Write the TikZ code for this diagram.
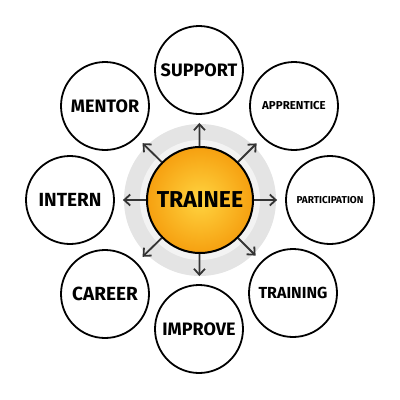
\documentclass[tikz,border=0pt]{standalone}
\usepackage{fontspec}
\setmainfont{Fira Sans}
\usetikzlibrary{arrows.meta}

\definecolor{ringgray}{RGB}{228,228,228}
\definecolor{ringlight}{RGB}{243,243,243}
\definecolor{sunout}{RGB}{246,160,16}
\definecolor{sunin}{RGB}{255,212,64}
\definecolor{arrowgray}{RGB}{52,52,52}

\begin{document}
\begin{tikzpicture}[x=1pt, y=-1pt,
    bubble/.style={draw, circle, line width=1.8pt, fill=white, minimum size=88pt, inner sep=0pt},
    hub/.style={draw, circle, line width=2pt, minimum size=106pt, inner sep=0pt,
      inner color=sunin, outer color=sunout, font=\bfseries\fontsize{23}{23}\selectfont},
    spoke/.style={-{Straight Barb[length=6pt,width=11pt]}, line width=1.8pt, arrowgray, shorten >=8pt}]

    \useasboundingbox (0,0) rectangle (400,400);

    % === Anello grigio ===
    \fill[ringgray] (200,200) circle (76);
    \fill[ringlight] (200,200) circle (60);

    % === Centro ===
    \node[hub] (trainee) at (200,200) {TRAINEE};

    % === Cerchi esterni ===
    \node[bubble, font=\bfseries\fontsize{18}{18}\selectfont] (support) at (199,70) {SUPPORT};
    \node[bubble, font=\bfseries\fontsize{11.5}{11.5}\selectfont] (apprentice) at (294,106) {APPRENTICE};
    \node[bubble, font=\bfseries\fontsize{10}{10}\selectfont] (participation) at (330,200) {PARTICIPATION};
    \node[bubble, font=\bfseries\fontsize{16}{16}\selectfont] (training) at (293,293) {TRAINING};
    \node[bubble, font=\bfseries\fontsize{18}{18}\selectfont] (improve) at (199,329) {IMPROVE};
    \node[bubble, font=\bfseries\fontsize{19}{19}\selectfont] (career) at (105,294) {CAREER};
    \node[bubble, font=\bfseries\fontsize{19}{19}\selectfont] (intern) at (70,200) {INTERN};
    \node[bubble, font=\bfseries\fontsize{18}{18}\selectfont] (mentor) at (105,106) {MENTOR};

    % Frecce
    \draw[spoke] (trainee) -- (support);
    \draw[spoke] (trainee) -- (apprentice);
    \draw[spoke] (trainee) -- (participation);
    \draw[spoke] (trainee) -- (training);
    \draw[spoke] (trainee) -- (improve);
    \draw[spoke] (trainee) -- (career);
    \draw[spoke] (trainee) -- (intern);
    \draw[spoke] (trainee) -- (mentor);

\end{tikzpicture}
\end{document}
